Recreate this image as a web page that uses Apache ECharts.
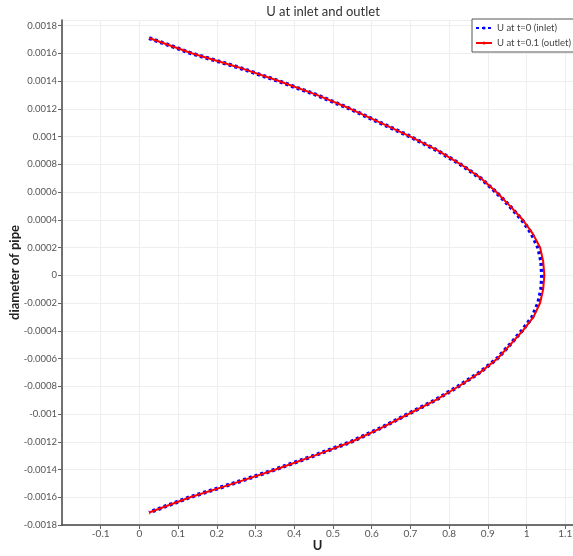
<!DOCTYPE html>
<html>
<head>
<meta charset="utf-8">
<script src="https://cdn.jsdelivr.net/npm/echarts@6/dist/echarts.min.js"></script>
<style>
  html, body { margin: 0; padding: 0; background: #fff; }
  #chart { width: 573px; height: 556px; }
</style>
</head>
<body>
<div id="chart"></div>
<script>
// radial position across the pipe (m)
const yPos = [0.00171, 0.0016, 0.0015, 0.0014, 0.0013, 0.0012, 0.0011, 0.001, 0.0009, 0.0008,
  0.0007, 0.0006, 0.0005, 0.0004, 0.0003, 0.0002, 0.0001, 0,
  -0.0001, -0.0002, -0.0003, -0.0004, -0.0005, -0.0006, -0.0007, -0.0008, -0.0009, -0.001,
  -0.0011, -0.0012, -0.0013, -0.0014, -0.0015, -0.0016, -0.00171];

// velocity at t=0 (inlet)
const uInlet = [0.025, 0.134, 0.254, 0.359, 0.457, 0.544, 0.621, 0.699, 0.769, 0.829,
  0.881, 0.921, 0.956, 0.988, 1.013, 1.03, 1.038, 1.04,
  1.038, 1.03, 1.015, 0.988, 0.957, 0.924, 0.879, 0.824, 0.764, 0.694,
  0.624, 0.547, 0.451, 0.351, 0.243, 0.13, 0.025];

// velocity at t=0.1 (outlet)
const uOutlet = [0.025, 0.135, 0.255, 0.36, 0.458, 0.545, 0.622, 0.7, 0.77, 0.83,
  0.882, 0.922, 0.957, 0.99, 1.016, 1.035, 1.043, 1.046,
  1.043, 1.035, 1.018, 0.99, 0.958, 0.925, 0.88, 0.825, 0.765, 0.695,
  0.625, 0.548, 0.452, 0.352, 0.244, 0.131, 0.025];

const xTicksMin = -0.2, xTicksMax = 1.12;
const yTicksMin = -0.0018, yTicksMax = 0.00184;

const font = 'Lato, "DejaVu Sans", sans-serif';

const chart = echarts.init(document.getElementById('chart'));

const option = {
  backgroundColor: '#fff',
  animation: false,
  title: {
    text: 'U at inlet and outlet',
    left: 318,
    top: 0,
    textAlign: 'center',
    textStyle: { fontFamily: font, fontSize: 13, fontWeight: 'normal', color: '#333' }
  },
  legend: {
    orient: 'vertical',
    left: 472,
    top: 19,
    padding: [4, 6, 4, 3],
    itemGap: 5,
    itemWidth: 16,
    itemHeight: 4,
    borderColor: '#555',
    borderWidth: 1,
    backgroundColor: '#fff',
    textStyle: { fontFamily: font, fontSize: 9.5, color: '#444' },
    data: ['U at t=0 (inlet)', 'U at t=0.1 (outlet)']
  },
  grid: { left: 62, right: 0, top: 20, bottom: 31, outerBoundsMode: 'none' },
  xAxis: {
    type: 'value',
    min: xTicksMin,
    max: xTicksMax,
    interval: 0.1,
    name: 'U',
    nameLocation: 'middle',
    nameGap: 14,
    nameMoveOverlap: false,
    nameTextStyle: { fontFamily: font, fontSize: 13, fontWeight: 'bold', color: '#222', verticalAlign: 'top' },
    axisLine: { show: true, onZero: false, lineStyle: { color: '#444', width: 1.5 } },
    axisTick: { show: true, length: 4, lineStyle: { color: '#666' } },
    axisLabel: {
      showMinLabel: false,
      showMaxLabel: false,
      margin: 4,
      fontFamily: font,
      fontSize: 10,
      color: '#555',
      formatter: v => String(+v.toFixed(2))
    },
    splitLine: { show: true, lineStyle: { color: '#eeeeee', width: 1 } }
  },
  yAxis: {
    type: 'value',
    min: yTicksMin,
    max: yTicksMax,
    interval: 0.0002,
    name: 'diameter of pipe',
    nameLocation: 'middle',
    nameGap: 41,
    nameMoveOverlap: false,
    nameTextStyle: { fontFamily: font, fontSize: 13, fontWeight: 'bold', color: '#222' },
    axisLine: { show: true, onZero: false, lineStyle: { color: '#444', width: 1.5 } },
    axisTick: { show: true, length: 4, lineStyle: { color: '#666' } },
    axisLabel: {
      showMaxLabel: false,
      margin: 5,
      fontFamily: font,
      fontSize: 9.5,
      color: '#555',
      formatter: v => String(+v.toFixed(4))
    },
    splitLine: { show: true, lineStyle: { color: '#eeeeee', width: 1 } }
  },
  series: [
    {
      name: 'U at t=0 (inlet)',
      type: 'line',
      symbol: 'none',
      data: yPos.map((y, i) => [uInlet[i], y]),
      lineStyle: { color: '#0000ff', width: 4, type: [3, 3] },
      itemStyle: { color: '#0000ff' },
      z: 2
    },
    {
      name: 'U at t=0.1 (outlet)',
      type: 'line',
      symbol: 'none',
      data: yPos.map((y, i) => [uOutlet[i], y]),
      lineStyle: { color: '#ff0000', width: 2 },
      itemStyle: { color: '#ff0000' },
      z: 3
    }
  ]
};

chart.setOption(option);
</script>
</body>
</html>
